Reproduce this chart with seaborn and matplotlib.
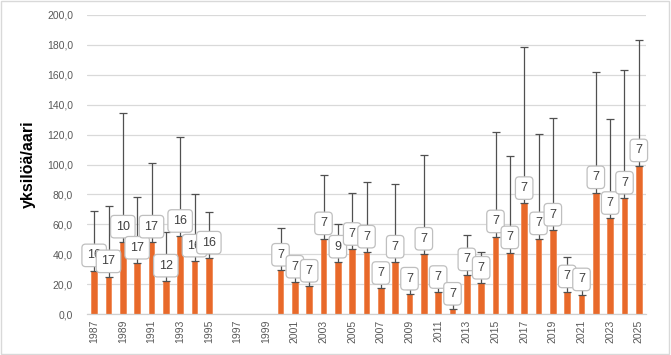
import numpy as np
import pandas as pd
import matplotlib
matplotlib.use("Agg")
import matplotlib.pyplot as plt
import seaborn as sns

years = list(range(1987, 2026))
values = [29.0, 25.0, 48.2, 34.1, 48.2, 22.1, 52.0, 35.5, 37.5,
          np.nan, np.nan, np.nan, np.nan,
          29.4, 21.4, 18.7, 50.4, 34.8, 43.3, 41.5, 17.2, 34.8, 13.4,
          40.1, 14.5, 3.3, 26.3, 20.7, 51.7, 41.0, 74.0, 50.4, 56.2,
          14.9, 12.9, 81.2, 64.0, 77.6, 99.2]
upper = [68.7, 72.2, 134.7, 78.5, 101.2, 54.6, 118.2, 80.3, 68.2,
         np.nan, np.nan, np.nan, np.nan,
         57.7, 27.0, 22.0, 92.8, 60.4, 80.7, 88.5, 21.0, 86.7, 17.0,
         106.1, 18.0, 6.7, 52.6, 41.2, 121.7, 105.9, 178.6, 120.4, 131.3,
         38.1, 16.5, 161.9, 130.7, 163.0, 183.3]
counts = [16, 17, 10, 17, 17, 12, 16, 16, 16,
          None, None, None, None,
          7, 7, 7, 7, 9, 7, 7, 7, 7, 7, 7, 7, 7, 7, 7, 7, 7, 7, 7, 7,
          7, 7, 7, 7, 7, 7]
yticks = [0, 20, 40, 60, 80, 100, 120, 140, 160, 180, 200]
ylabel = "yksilöä/aari"

sns.set_theme(style="white")
plt.rcParams['font.family'] = ['Liberation Sans', 'DejaVu Sans']

df = pd.DataFrame({"year": [str(y) for y in years], "value": values})

fig = plt.figure(figsize=(6.71, 3.55), dpi=100)
ax = fig.add_axes([87/671, 1 - 314/355, (646-87)/671, (314-15)/355])

bar_color = "#E8692A"
sns.barplot(data=df, x="year", y="value", order=df["year"].tolist(),
            color=bar_color, width=0.38, ax=ax, saturation=1,
            edgecolor="#F08A55", linewidth=0.6, zorder=2)

pos = np.arange(len(years))
vals = np.array(values, dtype=float)
up = np.array(upper, dtype=float)
mask = ~np.isnan(vals)
ax.errorbar(pos[mask], vals[mask],
            yerr=[np.zeros(mask.sum()), up[mask] - vals[mask]],
            fmt="none", ecolor="#505050", elinewidth=0.9, capsize=3,
            capthick=0.9, zorder=3)

for p, v, c in zip(pos, vals, counts):
    if c is None or np.isnan(v):
        continue
    ax.annotate(str(c), xy=(p, v), xytext=(0, 11), textcoords="offset points",
                ha="center", va="center", fontsize=9, color="#404040",
                bbox=dict(boxstyle="round,pad=0.42,rounding_size=0.3",
                          fc="white", ec="#BFBFBF", lw=0.9),
                zorder=4)

ax.set_ylim(0, 200)
ax.set_xlim(-0.5, len(years) - 0.5)
ax.set_yticks(yticks)
ax.set_yticklabels([f"{t:.1f}".replace(".", ",") for t in yticks],
                   fontsize=7.5, color="#595959")
ax.set_xticks(pos[::2])
ax.set_xticklabels([str(y) for y in years[::2]], rotation=90,
                   fontsize=7.5, color="#595959")
ax.set_xticks(np.arange(-0.5, len(years), 1), minor=True)
ax.tick_params(axis="x", which="major", length=0, pad=4)
ax.tick_params(axis="x", which="minor", length=4, color="#D0D0D0", width=0.8)
ax.tick_params(axis="y", length=0, pad=10)

ax.yaxis.grid(True, color="#D9D9D9", linewidth=0.9, zorder=0)
ax.set_axisbelow(True)
for s in ["top", "right", "left"]:
    ax.spines[s].set_visible(False)
ax.spines["bottom"].set_color("#D0D0D0")
ax.spines["bottom"].set_linewidth(0.9)

ax.set_xlabel("")
ax.set_ylabel(ylabel, fontsize=11.5, fontweight="bold", color="#000000", labelpad=8)

fig.patches.append(plt.Rectangle((0.002, 0.003), 0.995, 0.994, transform=fig.transFigure,
                                 fill=False, ec="#D9D9D9", lw=1))

fig.savefig("out.png", dpi=100)
